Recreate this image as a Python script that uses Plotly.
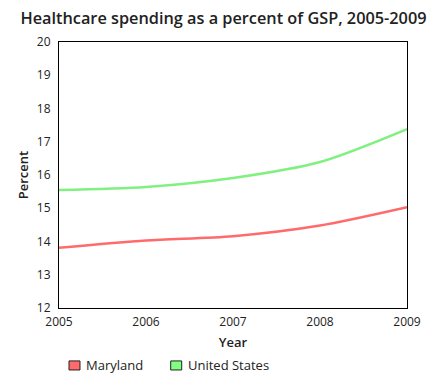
import plotly.graph_objects as go

years = [2005, 2006, 2007, 2008, 2009]
maryland = [13.81, 14.03, 14.16, 14.48, 15.03]
united_states = [15.55, 15.64, 15.91, 16.39, 17.38]
series_names = ["Maryland", "United States"]
line_colors = ["#ff6b6b", "#80f080"]
legend_colors = ["#ff6b6b", "#80ff80"]
legend_x = [0.0287, 0.321]  # paper coords of legend squares

font = "Open Sans, DejaVu Sans, sans-serif"
fig = go.Figure()
for name, vals, col in zip(series_names, [maryland, united_states], line_colors):
    fig.add_trace(go.Scatter(x=years, y=vals, mode="lines", name=name,
                             line=dict(color=col, width=2.5, shape="spline", smoothing=0.8),
                             showlegend=False, hoverinfo="x+y+name"))

# legend drawn as squares + labels below the plot
for name, col, lx in zip(series_names, legend_colors, legend_x):
    fig.add_shape(type="rect", xref="paper", yref="paper",
                  x0=lx, x1=lx + 0.0316, y0=-0.233, y1=-0.199,
                  fillcolor=col, line=dict(color="#222", width=1))
    fig.add_annotation(text=name, xref="paper", yref="paper", x=lx + 0.043, y=-0.216,
                       xanchor="left", yanchor="middle", showarrow=False,
                       font=dict(family=font, size=13, color="#222"))

fig.update_layout(
    width=431, height=382,
    margin=dict(l=51, r=32, t=34, b=82),
    paper_bgcolor="white", plot_bgcolor="white",
    showlegend=False,
    font=dict(family=font, size=12, color="#222"),
    title=dict(text="Healthcare spending as a percent of GSP, 2005-2009",
               x=0.5, xanchor="center", y=0.972, yanchor="middle",
               font=dict(family=font, size=16.3, color="#222", weight=600)),
    xaxis=dict(range=[2005, 2009], tickvals=years, ticktext=[str(y) for y in years],
               showgrid=False, zeroline=False, showline=True, linecolor="black",
               linewidth=1, mirror=True, ticks="", automargin=False,
               ticklabelstandoff=3,
               title=dict(text="Year", font=dict(size=13, weight=600), standoff=8),
               tickfont=dict(size=12)),
    yaxis=dict(range=[12, 20], tickvals=list(range(12, 21)),
               showgrid=False, zeroline=False, showline=True, linecolor="black",
               linewidth=1, mirror=True, ticks="", automargin=False,
               ticklabelstandoff=5,
               title=dict(text="Percent", font=dict(size=13, weight=600), standoff=5),
               tickfont=dict(size=12)),
)
fig.write_html("out.html")
